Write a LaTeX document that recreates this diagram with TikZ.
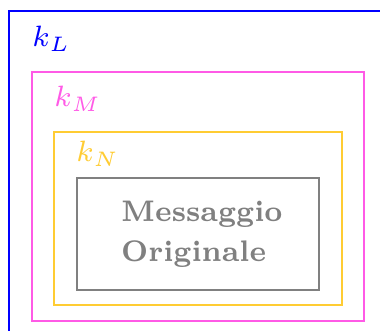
\documentclass[tikz,border=0pt]{standalone}
\usepackage{fix-cm}
\usepackage{graphicx}
\definecolor{cL}{RGB}{0,0,255}
\definecolor{cM}{RGB}{255,90,230}
\definecolor{cN}{RGB}{255,204,51}
\definecolor{cG}{RGB}{128,128,128}
\begin{document}
\begin{tikzpicture}[x=1pt,y=-1pt,
  box/.style={line width=1.7pt},
  lab/.style={anchor=base west,inner sep=0pt,font=\fontsize{7}{10}\selectfont}]
\useasboundingbox (0,0) rectangle (380,331);
\clip (0,0) rectangle (380,331);
\draw[box,cL,line width=2pt] (9,400) -- (9,11) -- (400,11);
\draw[box,cM] (32,72) rectangle (364,321);
\draw[box,cN] (54,132) rectangle (342,305);
\draw[box,cG] (77,178) rectangle (319,290);
\node[lab,text=cL] (kL) at (32,47) {\scalebox{4.05}[4.2]{$k_L$}};
\node[lab,text=cM] (kM) at (54,107) {\scalebox{4.05}[4.2]{$k_M$}};
\node[lab,text=cN] (kN) at (76,162) {\scalebox{4.05}[4.2]{$k_N$}};
\node[lab,text=cG,font=\fontsize{7}{9.4}\selectfont\bfseries] (msg) at (121,261)
  {\scalebox{4}[4.25]{\begin{tabular}[b]{@{}l@{}}Messaggio\\Originale\end{tabular}}};
\end{tikzpicture}
\end{document}
